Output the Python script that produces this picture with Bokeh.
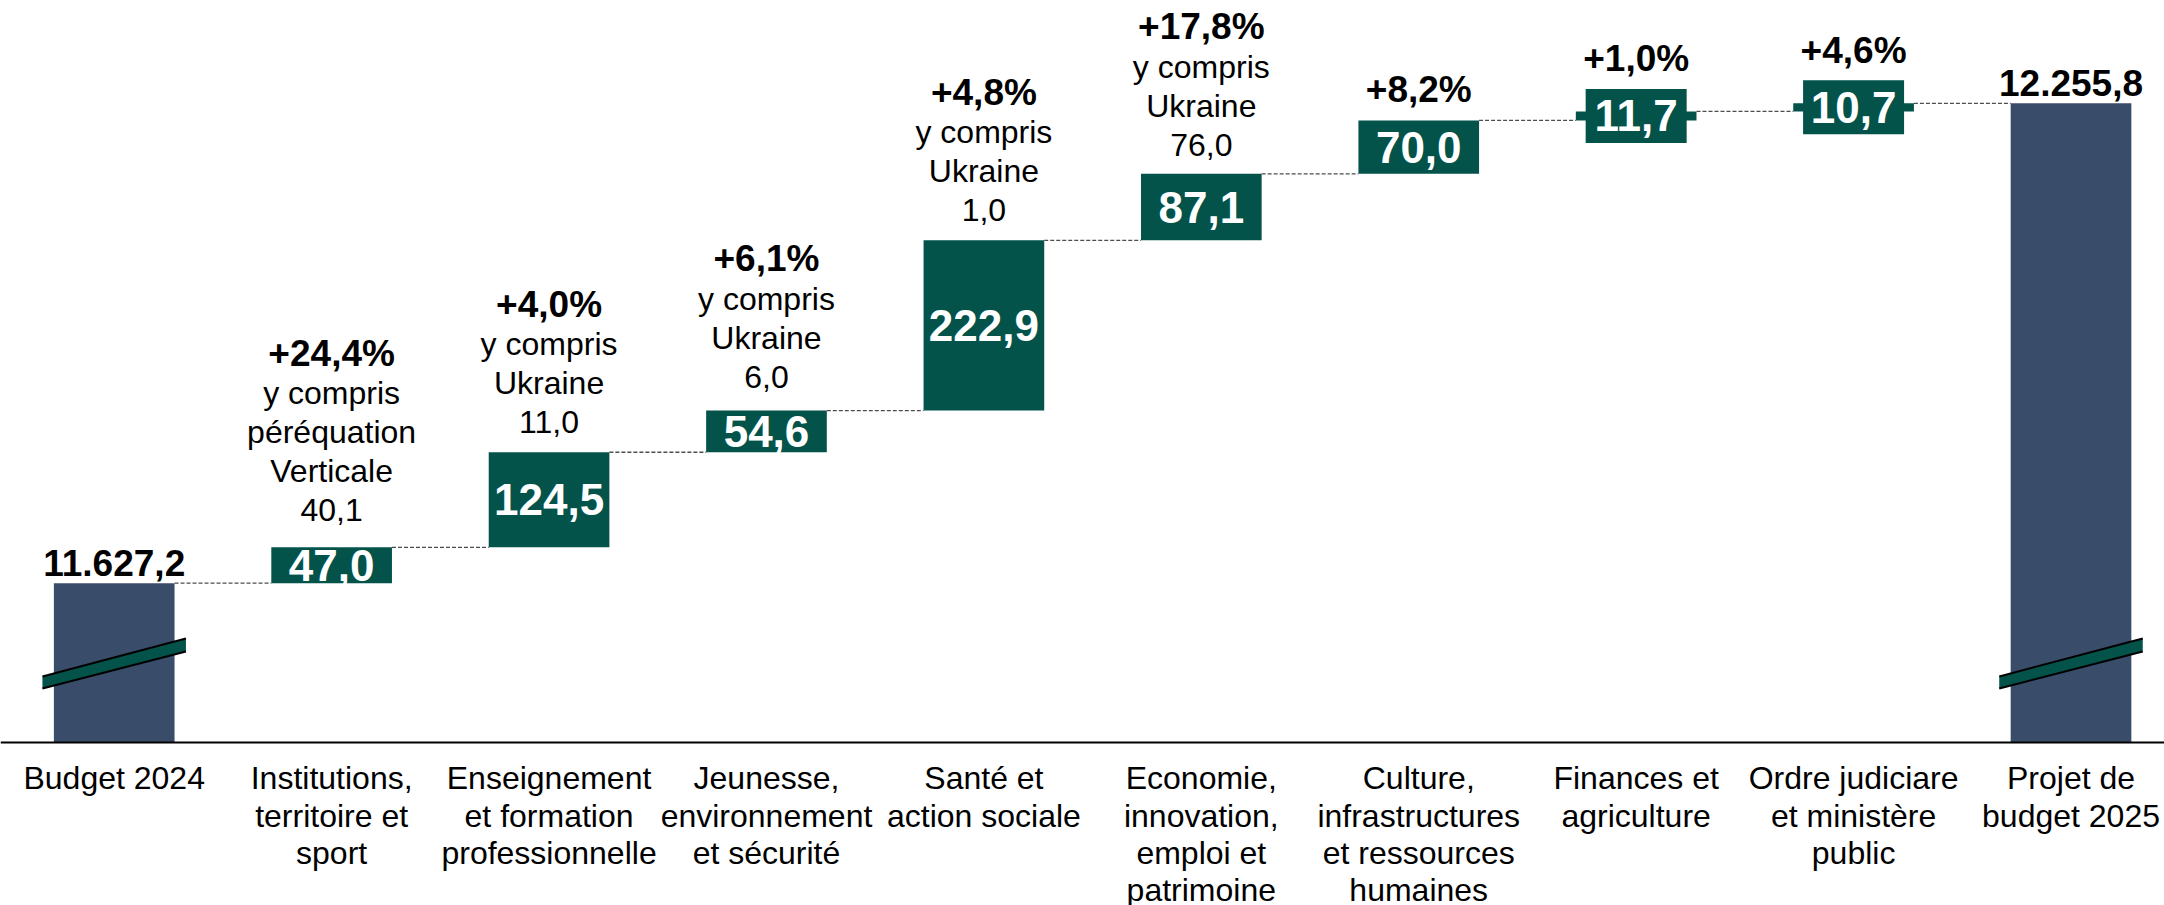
import numpy as np
from bokeh.plotting import figure
from bokeh.models import Range1d, FixedTicker
from bokeh.core.properties import value
from bokeh.embed import file_html
from bokeh.resources import INLINE

# ---------------- data ----------------
categories = [
    "Budget 2024",
    "Institutions,\nterritoire et\nsport",
    "Enseignement\net formation\nprofessionnelle",
    "Jeunesse,\nenvironnement\net sécurité",
    "Santé et\naction sociale",
    "Economie,\ninnovation,\nemploi et\npatrimoine",
    "Culture,\ninfrastructures\net ressources\nhumaines",
    "Finances et\nagriculture",
    "Ordre judiciare\net ministère\npublic",
    "Projet de\nbudget 2025",
]
budget_2024 = 11627.2
budget_2025 = 12255.8
steps = [47.0, 124.5, 54.6, 222.9, 87.1, 70.0, 11.7, 10.7]
pct_change = ["+24,4%", "+4,0%", "+6,1%", "+4,8%", "+17,8%", "+8,2%", "+1,0%", "+4,6%"]
note_text = [
    "y compris\npéréquation\nVerticale",
    "y compris\nUkraine",
    "y compris\nUkraine",
    "y compris\nUkraine",
    "y compris\nUkraine",
    "", "", "",
]
note_value = [40.1, 11.0, 6.0, 1.0, 76.0, None, None, None]

# ---------------- style / layout ----------------
NAVY = "#394D6B"
GREEN = "#03534B"
FONT = "Liberation Sans"
W, H = 2164, 905
Y_BASE = 11418.6                       # broken axis: value where the bars start
Y_START, Y_END = 11205.1, 12390.3
X_START, X_END = -0.523, 9.430
BAR_W = 0.555
LINE_H = 39.0
GAP = 30
NOTE_EXTRA_GAP = [7, 0, 4, 0, -1, 0, 0, 0]   # per-annotation spacing (layout only)
TOTAL_GAP = 20


def fr(v):
    s = f"{v:,.1f}"
    return s.replace(",", "X").replace(".", ",").replace("X", ".")


n = len(steps)
xs_steps = np.arange(1, n + 1)
tops = budget_2024 + np.cumsum(steps)
bottoms = tops - np.array(steps)
mids = (tops + bottoms) / 2

p = figure(width=W, height=H, output_backend="svg", toolbar_location=None,
           x_range=Range1d(X_START, X_END), y_range=Range1d(Y_START, Y_END),
           y_axis_location=None, min_border_left=0, min_border_right=0,
           min_border_top=0, min_border_bottom=0)
p.outline_line_color = None
p.xgrid.visible = False
p.ygrid.visible = False
p.background_fill_color = "white"
p.border_fill_color = "white"

# totals
p.vbar(x=[0, len(categories) - 1], bottom=Y_BASE, top=[budget_2024, budget_2025],
       width=BAR_W, fill_color=NAVY, line_color=None)

# steps
p.vbar(x=xs_steps, bottom=bottoms, top=tops, width=BAR_W, fill_color=GREEN, line_color=None)

# label boxes for small steps
small = np.array(steps) < 20
p.rect(x=xs_steps[small], y=mids[small], width=0.4645, height=54, height_units="screen",
       fill_color=GREEN, line_color=None)

# value labels
p.text(x=xs_steps, y=mids, text=[fr(v) for v in steps], text_align="center",
       text_baseline="middle", text_font=value(FONT), text_font_style="bold",
       text_font_size="44px", text_color="white")

# connectors
levels = np.concatenate([[budget_2024], tops])
cx0 = np.arange(0, n + 1) + BAR_W / 2
cx1 = np.arange(1, n + 2) - BAR_W / 2
p.segment(x0=cx0, y0=levels, x1=cx1, y1=levels, line_color="#4d4d4d",
          line_width=1.3, line_dash="4 2")

# totals labels
p.text(x=[0, len(categories) - 1], y=[budget_2024, budget_2025],
       text=[fr(budget_2024), fr(budget_2025)], y_offset=-TOTAL_GAP,
       text_align="center", text_baseline="alphabetic", text_font=value(FONT),
       text_font_style="bold", text_font_size="37px", text_color="black")

# annotations above steps
bx, by, bo, bt = [], [], [], []
nx, ny, no, nt = [], [], [], []
for j in range(n):
    lines = []
    if note_text[j]:
        lines += note_text[j].split("\n")
    if note_value[j] is not None:
        lines.append(fr(note_value[j]))
    gap = GAP + NOTE_EXTRA_GAP[j]
    if small[j]:
        anchor, base = mids[j], -(27 + gap - 1)
    else:
        anchor, base = tops[j], -gap
    k = 0
    for line in reversed(lines):
        nx.append(xs_steps[j]); ny.append(anchor); no.append(base - k * LINE_H); nt.append(line)
        k += 1
    bx.append(xs_steps[j]); by.append(anchor); bo.append(base - k * LINE_H - 1); bt.append(pct_change[j])

p.text(x=nx, y=ny, y_offset=no, text=nt, text_align="center", text_baseline="alphabetic",
       text_font=value(FONT), text_font_size="32px", text_color="black")
p.text(x=bx, y=by, y_offset=bo, text=bt, text_align="center", text_baseline="alphabetic",
       text_font=value(FONT), text_font_style="bold", text_font_size="37px", text_color="black")

# axis break symbols
brk_x, brk_y, el_x, el_y = [], [], [], []
for xc in [0, len(categories) - 1]:
    xl, xr = xc - 0.33, xc + 0.33
    yl0, yl1 = Y_BASE + 70.7, Y_BASE + 86.4
    yr0, yr1 = Y_BASE + 119.2, Y_BASE + 136.2
    brk_x.append([xl, xr, xr, xl]); brk_y.append([yl0, yr0, yr1, yl1])
    el_x += [[xl, xr], [xl, xr]]; el_y += [[yl0, yr0], [yl1, yr1]]
p.patches(xs=brk_x, ys=brk_y, fill_color=GREEN, line_color=None)
p.multi_line(xs=el_x, ys=el_y, line_color="black", line_width=2)

# category axis drawn at the (broken) baseline
ax = p.xaxis[0]
ax.fixed_location = Y_BASE
ax.ticker = FixedTicker(ticks=list(range(len(categories))))
ax.major_label_overrides = {i: c for i, c in enumerate(categories)}
ax.major_label_text_font = FONT
ax.major_label_text_font_size = "32px"
ax.major_label_text_color = "black"
ax.major_label_text_line_height = 1.03
ax.major_label_standoff = 12
ax.major_tick_line_color = None
ax.minor_tick_line_color = None
ax.axis_line_color = "black"
ax.axis_line_width = 2

open("out.html", "w").write(file_html(p, INLINE))
